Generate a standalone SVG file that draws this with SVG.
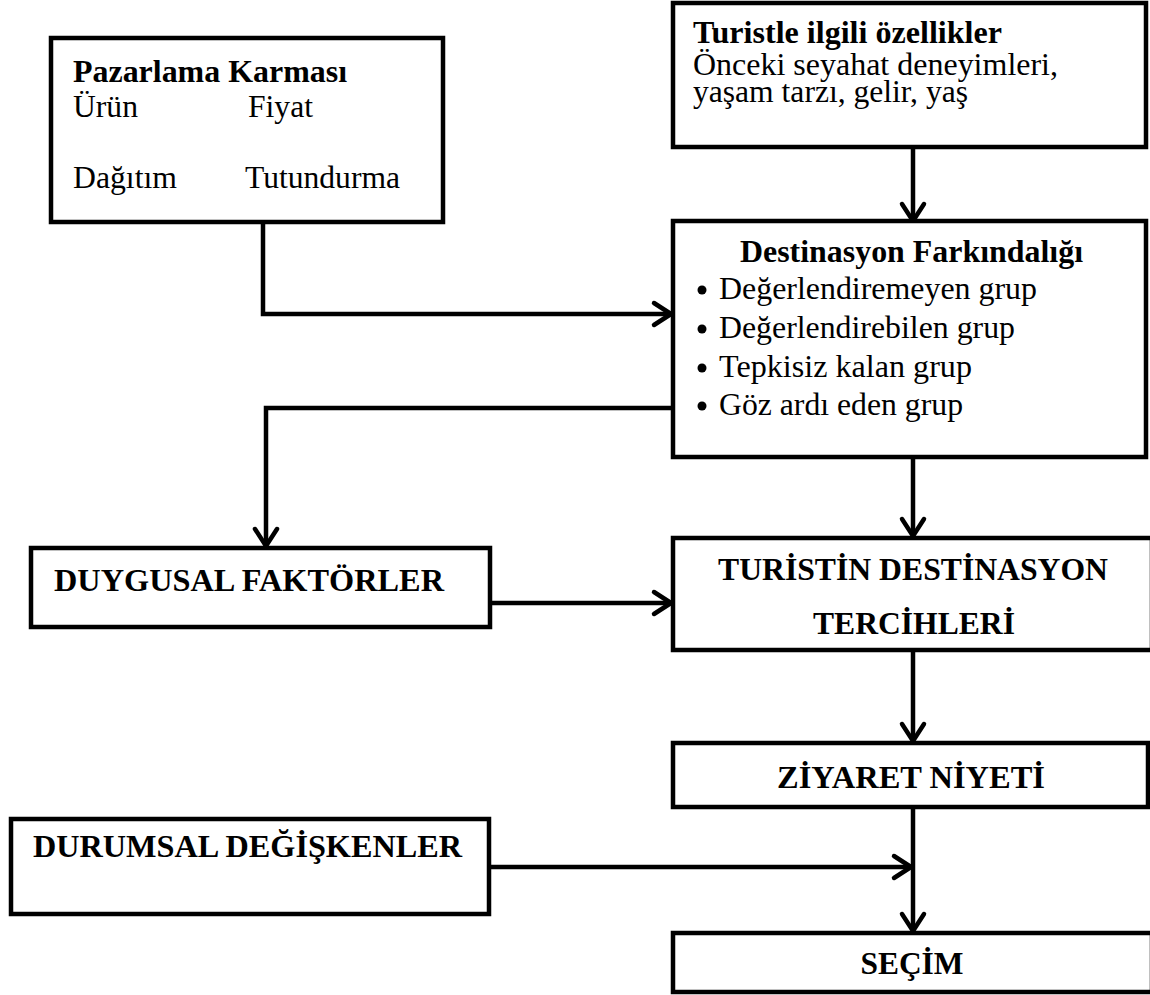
<svg xmlns="http://www.w3.org/2000/svg" width="1150" height="995" viewBox="0 0 1150 995">
  <style>
    .box { fill: #ffffff; stroke: #000000; stroke-width: 4.5; }
    .t { font-family: "Liberation Serif", "Times New Roman", serif; font-size: 32px; fill: #000000; }
    .b { font-weight: bold; }
    .mid { text-anchor: middle; }
    .dot { fill: #000000; }
    .link { fill: none; stroke: #000000; stroke-width: 4.5; stroke-linejoin: miter; }
  </style>
  <defs>
    <marker id="chev" markerUnits="userSpaceOnUse" markerWidth="40" markerHeight="40" viewBox="-25 -20 40 40" refX="0" refY="0" orient="auto" overflow="visible">
      <path d="M-17,-11 L0,0 L-17,11" fill="none" stroke="#000000" stroke-width="4.5" stroke-linecap="round" stroke-linejoin="round"/>
    </marker>
  </defs>

  <rect width="1150" height="995" fill="#ffffff"/>

  <!-- connectors -->
  <g id="connectors">
    <path class="link" d="M913,149 V221" marker-end="url(#chev)"/>
    <path class="link" d="M263,224 V314 H671" marker-end="url(#chev)"/>
    <path class="link" d="M672,408 H266 V546" marker-end="url(#chev)"/>
    <path class="link" d="M490,603 H671" marker-end="url(#chev)"/>
    <path class="link" d="M913,459 V536" marker-end="url(#chev)"/>
    <path class="link" d="M913,652 V741" marker-end="url(#chev)"/>
    <path class="link" d="M913,809 V931" marker-end="url(#chev)"/>
    <path class="link" d="M489,867 H911" marker-end="url(#chev)"/>
  </g>

  <!-- marketing mix -->
  <g id="pazarlama">
    <rect class="box" x="51" y="38" width="392" height="184"/>
    <text class="t b" x="73" y="82" textLength="274" lengthAdjust="spacingAndGlyphs">Pazarlama Karması</text>
    <text class="t" x="73" y="117" textLength="65" lengthAdjust="spacingAndGlyphs">Ürün</text>
    <text class="t" x="248" y="117" textLength="65" lengthAdjust="spacingAndGlyphs">Fiyat</text>
    <text class="t" x="73" y="188" textLength="104" lengthAdjust="spacingAndGlyphs">Dağıtım</text>
    <text class="t" x="245" y="188" textLength="155" lengthAdjust="spacingAndGlyphs">Tutundurma</text>
  </g>

  <!-- tourist characteristics -->
  <g id="turist">
    <rect class="box" x="673" y="3" width="473" height="144"/>
    <text class="t b" x="693" y="43" textLength="309" lengthAdjust="spacingAndGlyphs">Turistle ilgili özellikler</text>
    <text class="t" x="693" y="75" textLength="365" lengthAdjust="spacingAndGlyphs">Önceki seyahat deneyimleri,</text>
    <text class="t" x="693" y="102" textLength="275" lengthAdjust="spacingAndGlyphs">yaşam tarzı, gelir, yaş</text>
  </g>

  <!-- destination awareness -->
  <g id="farkindalik">
    <rect class="box" x="673" y="221" width="473" height="236"/>
    <text class="t b" x="740" y="262" textLength="343" lengthAdjust="spacingAndGlyphs">Destinasyon Farkındalığı</text>
    <circle class="dot" cx="702" cy="290" r="4.5"/>
    <text class="t" x="719" y="299" textLength="318" lengthAdjust="spacingAndGlyphs">Değerlendiremeyen grup</text>
    <circle class="dot" cx="702" cy="329" r="4.5"/>
    <text class="t" x="719" y="338" textLength="296" lengthAdjust="spacingAndGlyphs">Değerlendirebilen grup</text>
    <circle class="dot" cx="702" cy="368" r="4.5"/>
    <text class="t" x="719" y="377" textLength="253" lengthAdjust="spacingAndGlyphs">Tepkisiz kalan grup</text>
    <circle class="dot" cx="702" cy="406" r="4.5"/>
    <text class="t" x="719" y="415" textLength="244" lengthAdjust="spacingAndGlyphs">Göz ardı eden grup</text>
  </g>

  <!-- emotional factors -->
  <g id="duygusal">
    <rect class="box" x="31" y="548" width="459" height="79"/>
    <text class="t b" x="54" y="591" textLength="390" lengthAdjust="spacingAndGlyphs">DUYGUSAL FAKTÖRLER</text>
  </g>

  <!-- destination preferences -->
  <g id="tercihler">
    <rect class="box" x="673" y="538" width="479" height="112"/>
    <text class="t b mid" x="913" y="580" textLength="390" lengthAdjust="spacingAndGlyphs">TURİSTİN DESTİNASYON</text>
    <text class="t b mid" x="914" y="634" textLength="202" lengthAdjust="spacingAndGlyphs">TERCİHLERİ</text>
  </g>

  <!-- visit intention -->
  <g id="ziyaret">
    <rect class="box" x="673" y="743" width="475" height="64"/>
    <text class="t b mid" x="911" y="788" textLength="268" lengthAdjust="spacingAndGlyphs">ZİYARET NİYETİ</text>
  </g>

  <!-- situational variables -->
  <g id="durumsal">
    <rect class="box" x="11" y="819" width="478" height="95"/>
    <text class="t b" x="33" y="857" textLength="429" lengthAdjust="spacingAndGlyphs">DURUMSAL DEĞİŞKENLER</text>
  </g>

  <!-- choice -->
  <g id="secim">
    <rect class="box" x="673" y="933" width="479" height="59"/>
    <text class="t b mid" x="912" y="974" textLength="103" lengthAdjust="spacingAndGlyphs">SEÇİM</text>
  </g>
</svg>
